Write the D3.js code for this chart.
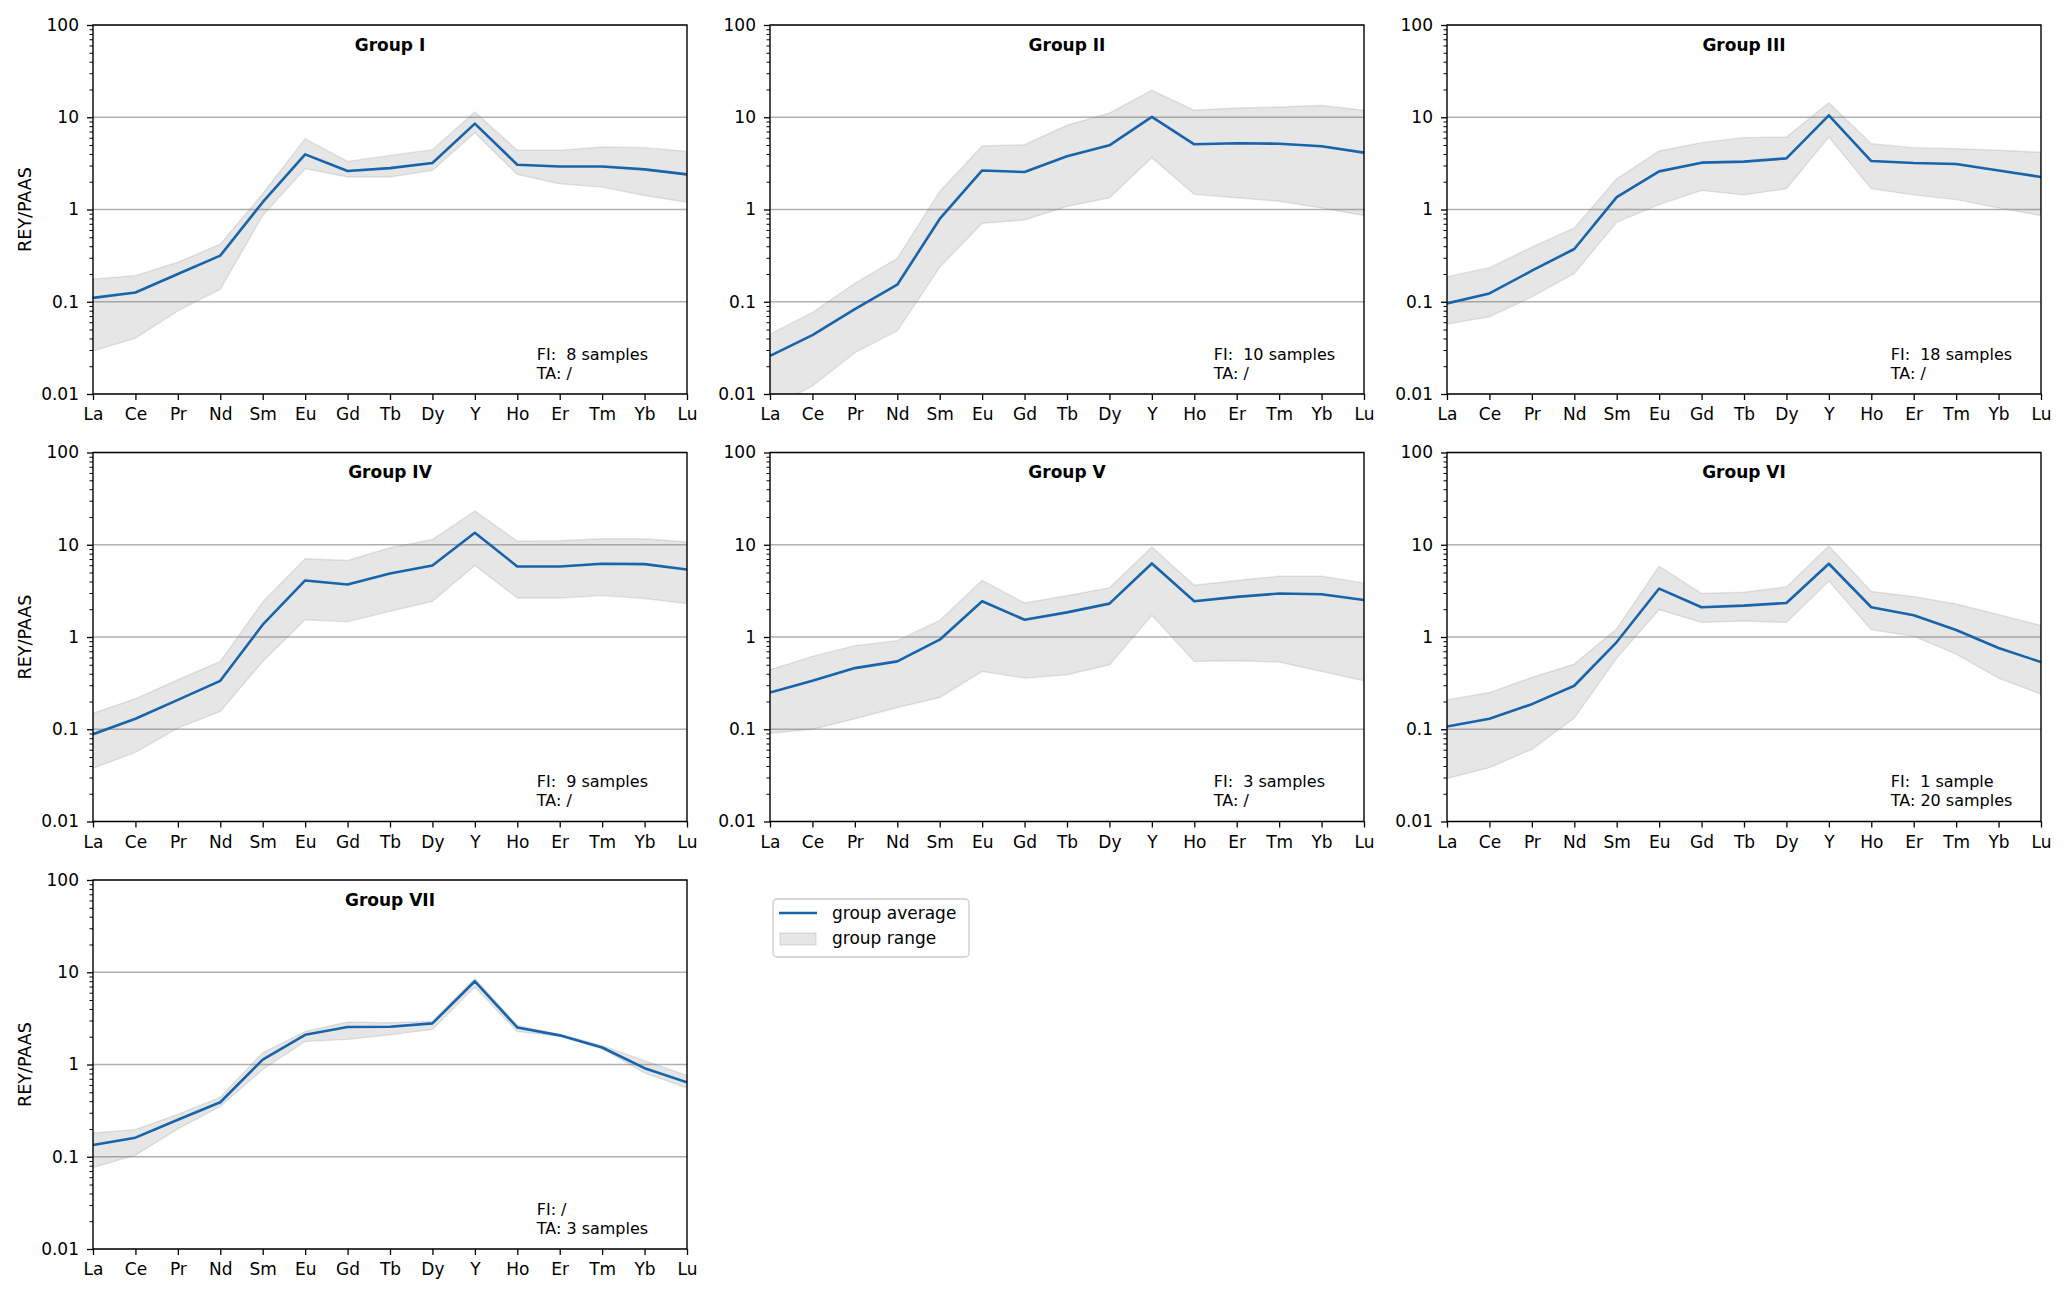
<!DOCTYPE html>
<html><head><meta charset="utf-8">
<script src="https://cdn.jsdelivr.net/npm/d3@7"></script>
<style>body{margin:0;background:#fff} text{font-family:"DejaVu Sans",sans-serif}</style>
</head><body><svg id="chart" width="2067" height="1294"></svg>
<script>
// ---------- data ----------
const elements = ["La","Ce","Pr","Nd","Sm","Eu","Gd","Tb","Dy","Y","Ho","Er","Tm","Yb","Lu"];
const yTickValues = [0.01, 0.1, 1, 10, 100];
const yTickLabels = ["0.01", "0.1", "1", "10", "100"];
const groupTitles = ["Group I","Group II","Group III","Group IV","Group V","Group VI","Group VII"];
const fiLabels = ["FI:  8 samples","FI:  10 samples","FI:  18 samples","FI:  9 samples","FI:  3 samples","FI:  1 sample","FI: /"];
const taLabels = ["TA: /","TA: /","TA: /","TA: /","TA: /","TA: 20 samples","TA: 3 samples"];
const legendLabels = ["group average", "group range"];

const g1Avg = [0.11,0.126,0.2,0.316,1.2,3.96,2.61,2.81,3.19,8.53,3.06,2.93,2.93,2.72,2.40];
const g1Min = [0.0293,0.0403,0.0798,0.137,0.86,2.77,2.25,2.25,2.65,6.81,2.40,1.90,1.75,1.42,1.20];
const g1Max = [0.176,0.192,0.268,0.42,1.48,5.86,3.32,3.86,4.45,11.4,4.38,4.38,4.76,4.68,4.27];

const g2Avg = [0.0259,0.0434,0.0832,0.153,0.79,2.65,2.55,3.77,4.96,10.1,5.09,5.22,5.17,4.84,4.13];
const g2Min = [0.007,0.0122,0.0281,0.0484,0.236,0.71,0.77,1.08,1.34,3.64,1.46,1.34,1.23,1.04,0.86];
const g2Max = [0.0445,0.0766,0.158,0.296,1.57,4.88,5.04,8.19,11.1,19.6,11.9,12.6,12.9,13.4,11.9];

const g3Avg = [0.0959,0.123,0.217,0.373,1.36,2.59,3.22,3.30,3.58,10.5,3.35,3.19,3.11,2.65,2.25];
const g3Min = [0.0572,0.0687,0.113,0.203,0.728,1.13,1.61,1.44,1.68,6.11,1.68,1.44,1.28,1.04,0.86];
const g3Max = [0.187,0.234,0.39,0.632,2.15,4.31,5.31,6.01,6.11,14.4,5.17,4.68,4.56,4.38,4.17];

const g4Avg = [0.0883,0.13,0.208,0.335,1.36,4.10,3.71,4.88,5.96,13.5,5.81,5.81,6.22,6.17,5.39];
const g4Min = [0.0377,0.0562,0.103,0.156,0.544,1.54,1.46,1.90,2.44,5.96,2.65,2.65,2.81,2.61,2.30];
const g4Max = [0.149,0.214,0.344,0.544,2.40,7.05,6.76,9.27,11.4,23.2,10.96,11.05,11.6,11.6,10.7];

const g5Avg = [0.25,0.335,0.46,0.544,0.935,2.44,1.54,1.85,2.30,6.27,2.44,2.72,2.96,2.91,2.52];
const g5Min = [0.0905,0.1,0.13,0.172,0.221,0.424,0.358,0.39,0.5,1.72,0.544,0.553,0.535,0.424,0.335];
const g5Max = [0.442,0.616,0.805,0.912,1.51,4.10,2.34,2.81,3.41,9.43,3.64,4.10,4.56,4.56,3.86];

const g6Avg = [0.107,0.13,0.187,0.296,0.882,3.35,2.10,2.19,2.34,6.22,2.10,1.72,1.19,0.759,0.535];
const g6Min = [0.0293,0.0383,0.0606,0.132,0.591,1.98,1.44,1.49,1.44,4.03,1.20,1.02,0.653,0.358,0.24];
const g6Max = [0.208,0.25,0.364,0.509,1.23,5.86,2.96,3.06,3.49,9.68,3.11,2.74,2.28,1.75,1.33];

const g7Avg = [0.134,0.161,0.252,0.39,1.13,2.10,2.55,2.57,2.79,7.98,2.52,2.07,1.53,0.912,0.642];
const g7Min = [0.0766,0.104,0.2,0.352,0.882,1.78,1.87,2.10,2.40,6.93,2.28,2.03,1.48,0.811,0.557];
const g7Max = [0.181,0.197,0.288,0.442,1.34,2.28,2.89,2.84,2.93,8.53,2.65,2.12,1.61,1.10,0.759];

const groupAvg = [g1Avg,g2Avg,g3Avg,g4Avg,g5Avg,g6Avg,g7Avg];
const groupMin = [g1Min,g2Min,g3Min,g4Min,g5Min,g6Min,g7Min];
const groupMax = [g1Max,g2Max,g3Max,g4Max,g5Max,g6Max,g7Max];

// ---------- layout ----------
const colLeft = [93, 770, 1447];
const rowTop = [25, 452.5, 880];
const W = 594, H = 369;
const FONT = 17;
const BLUE = "#1764ab";
const BAND = "rgba(128,128,128,0.2)";

const svg = d3.select("#chart");
const defs = svg.append("defs");

const minorTicks = [];
for (let e = -2; e < 2; e++) for (let m = 2; m <= 9; m++) minorTicks.push(m * Math.pow(10, e));

groupTitles.forEach((title, gi) => {
  const col = gi % 3, row = Math.floor(gi / 3);
  const x0 = colLeft[col], y0 = rowTop[row];
  const g = svg.append("g").attr("transform", `translate(${x0},${y0})`);

  const x = d3.scalePoint().domain(elements).range([0, W]).padding(0);
  const y = d3.scaleLog().domain([0.01, 100]).range([H, 0]);

  const clipId = "clip" + gi;
  defs.append("clipPath").attr("id", clipId).append("rect").attr("width", W).attr("height", H);

  // grid
  g.append("g").selectAll("line").data(yTickValues).join("line")
    .attr("x1", 0).attr("x2", W).attr("y1", d => y(d)).attr("y2", d => y(d))
    .attr("stroke", "#b0b0b0").attr("stroke-width", 1.4);

  const rows = elements.map((el, i) => ({el, avg: groupAvg[gi][i], lo: groupMin[gi][i], hi: groupMax[gi][i]}));

  const plot = g.append("g").attr("clip-path", `url(#${clipId})`);
  plot.append("path").datum(rows)
    .attr("d", d3.area().x(d => x(d.el)).y0(d => y(d.lo)).y1(d => y(d.hi)))
    .attr("fill", BAND).attr("stroke", BAND).attr("stroke-width", 1.4);
  plot.append("path").datum(rows)
    .attr("d", d3.line().x(d => x(d.el)).y(d => y(d.avg)))
    .attr("fill", "none").attr("stroke", BLUE).attr("stroke-width", 2.6).attr("stroke-linejoin", "round");

  // axes
  const yAx = g.append("g").call(d3.axisLeft(y).tickValues(yTickValues).tickFormat((d, i) => yTickLabels[i]).tickSize(6).tickPadding(8));
  const yMin = g.append("g").call(d3.axisLeft(y).tickValues(minorTicks).tickFormat("").tickSize(3.5));
  const xAx = g.append("g").attr("transform", `translate(0,${H})`).call(d3.axisBottom(x).tickSize(6).tickPadding(8));
  [yAx, yMin, xAx].forEach(a => {
    a.select(".domain").remove();
    a.selectAll("line").attr("stroke", "#000").attr("stroke-width", 1.3);
    a.selectAll("text").attr("font-size", FONT).attr("font-family", "DejaVu Sans").attr("fill", "#000");
  });
  yMin.selectAll("line").attr("stroke-width", 1);

  // frame
  g.append("rect").attr("width", W).attr("height", H).attr("fill", "none").attr("stroke", "#000").attr("stroke-width", 1.4);

  // title
  g.append("text").attr("x", W / 2).attr("y", 25.5).attr("text-anchor", "middle")
    .attr("font-size", FONT).attr("font-weight", "bold").text(title);

  // annotation
  g.append("text").attr("x", W * 0.747).attr("y", H - 34.5).attr("font-size", 16)
    .style("white-space", "pre").text(fiLabels[gi]);
  g.append("text").attr("x", W * 0.747).attr("y", H - 15.5).attr("font-size", 16)
    .style("white-space", "pre").text(taLabels[gi]);

  if (col === 0) {
    g.append("text").attr("transform", `translate(${31 - x0},${H / 2}) rotate(-90)`)
      .attr("text-anchor", "middle").attr("font-size", 17.5).text("REY/PAAS");
  }
});

// legend
const lg = svg.append("g");
lg.append("rect").attr("x", 773).attr("y", 899).attr("width", 196).attr("height", 58).attr("rx", 4)
  .attr("fill", "#fff").attr("stroke", "#cccccc").attr("stroke-width", 1.3);
lg.append("line").attr("x1", 779).attr("x2", 817).attr("y1", 913).attr("y2", 913)
  .attr("stroke", BLUE).attr("stroke-width", 2.6);
lg.append("rect").attr("x", 780).attr("y", 933).attr("width", 36).attr("height", 12)
  .attr("fill", BAND).attr("stroke", BAND).attr("stroke-width", 1.4);
lg.append("text").attr("x", 832).attr("y", 918.5).attr("font-size", FONT).text(legendLabels[0]);
lg.append("text").attr("x", 832).attr("y", 943.5).attr("font-size", FONT).text(legendLabels[1]);
</script></body></html>
